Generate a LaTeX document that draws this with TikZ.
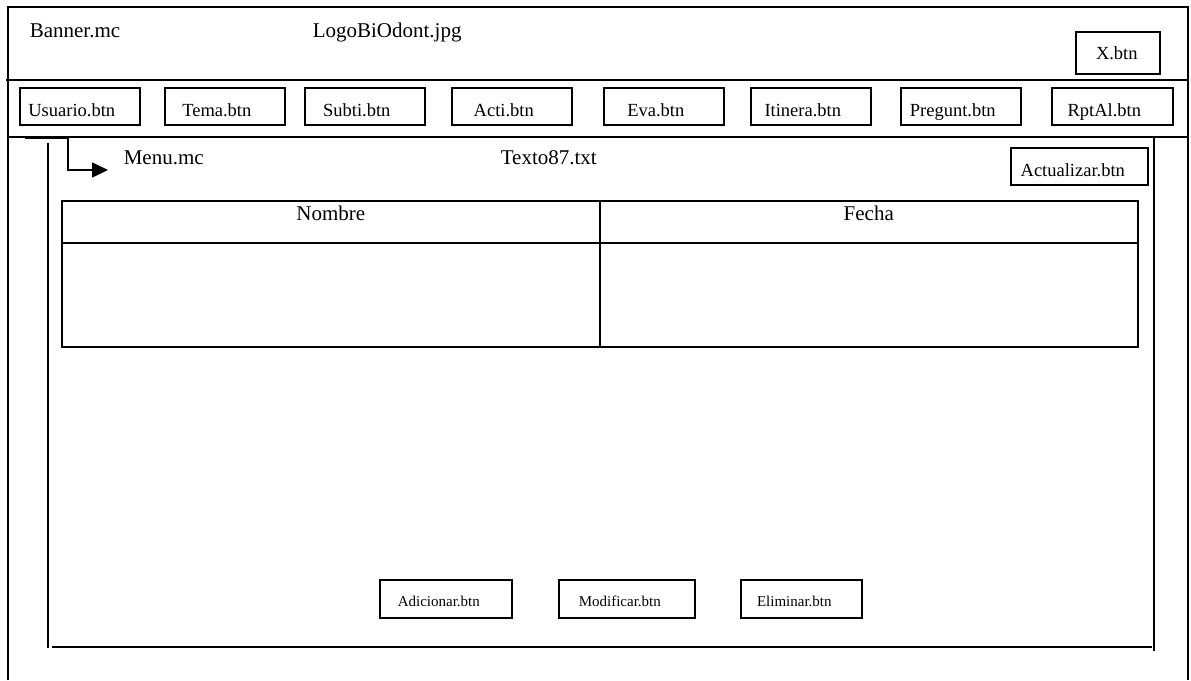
\documentclass[tikz,border=0pt]{standalone}
\usepackage{fontspec}
\setmainfont{Liberation Serif}
\usetikzlibrary{arrows.meta,matrix}

\begin{document}
\begin{tikzpicture}[x=1pt, y=-1pt, line width=1.6pt,
  every node/.style={inner sep=0pt},
  txt/.style={anchor=base west, font=\fontsize{21}{25}\selectfont},
  btn/.style={draw, anchor=north west, minimum width=120pt, minimum height=37pt},
  btncap/.style={anchor=base, font=\fontsize{18.5}{22}\selectfont, xshift=-8pt, yshift=9pt},
  btnsmall/.style={anchor=base, font=\fontsize{15}{18}\selectfont, xshift=-7pt, yshift=12pt}]
\useasboundingbox (0,0) rectangle (1191,680);

% ventana
\draw (8,680) -- (8,7) -- (1188,7) -- (1188,680);
\draw (6,80) -- (1188,80);
\draw (8,137) -- (1188,137);

% cabecera
\node[txt] (banner) at (29,37) {Banner.mc};
\node[txt] (logo) at (312,37) {LogoBiOdont.jpg};
\node[btn, minimum width=84pt, minimum height=42pt, label={[btncap,xshift=7pt,yshift=6pt]south:X.btn}] (cerrar) at (1075,31) {};

% barra de botones
\node[btn, label={[btncap]south:Usuario.btn}] (usuario) at (19,87) {};
\node[btn, label={[btncap]south:Tema.btn}] (tema) at (164,87) {};
\node[btn, label={[btncap]south:Subti.btn}] (subti) at (304,87) {};
\node[btn, label={[btncap]south:Acti.btn}] (acti) at (451,87) {};
\node[btn, label={[btncap]south:Eva.btn}] (eva) at (603,87) {};
\node[btn, label={[btncap]south:Itinera.btn}] (itinera) at (750,87) {};
\node[btn, label={[btncap]south:Pregunt.btn}] (pregunt) at (900,87) {};
\node[btn, minimum width=121pt, label={[btncap]south:RptAl.btn}] (rptal) at (1051,87) {};

% contenido
\draw (48,143) -- (48,648);
\draw (52,647) -- (1152,647);
\draw (1154,137) -- (1154,651);

\node[txt] (menu) at (123,164) {Menu.mc};
\node[txt] (texto) at (500,164) {Texto87.txt};
\node[btn, minimum width=137pt, label={[btncap,xshift=1.5pt]south:Actualizar.btn}] (actualizar) at (1010,147) {};

\coordinate (pestana) at (25,138.5);
\coordinate (flecha) at (108,170);
\draw[-{Triangle[length=16pt,width=15pt]}] (pestana) -- (68,138.5) |- (flecha);

\matrix (tabla) [matrix of nodes, nodes in empty cells, anchor=north west, inner sep=0pt,
  column sep=-2pt, row sep=-2pt,
  nodes={draw, line width=2pt, minimum width=538pt, text height=20pt, text depth=22pt,
         font=\fontsize{21}{25}\selectfont},
  row 2/.style={nodes={minimum height=104pt}}] at (60,199) {
Nombre & Fecha \\
 & \\
};

\node[btn, minimum width=132pt, minimum height=38pt, label={[btnsmall]south:Adicionar.btn}] (adicionar) at (379,579) {};
\node[btn, minimum width=136pt, minimum height=38pt, label={[btnsmall]south:Modificar.btn}] (modificar) at (558,579) {};
\node[btn, minimum width=121pt, minimum height=38pt, label={[btnsmall]south:Eliminar.btn}] (eliminar) at (740,579) {};

\end{tikzpicture}
\end{document}
